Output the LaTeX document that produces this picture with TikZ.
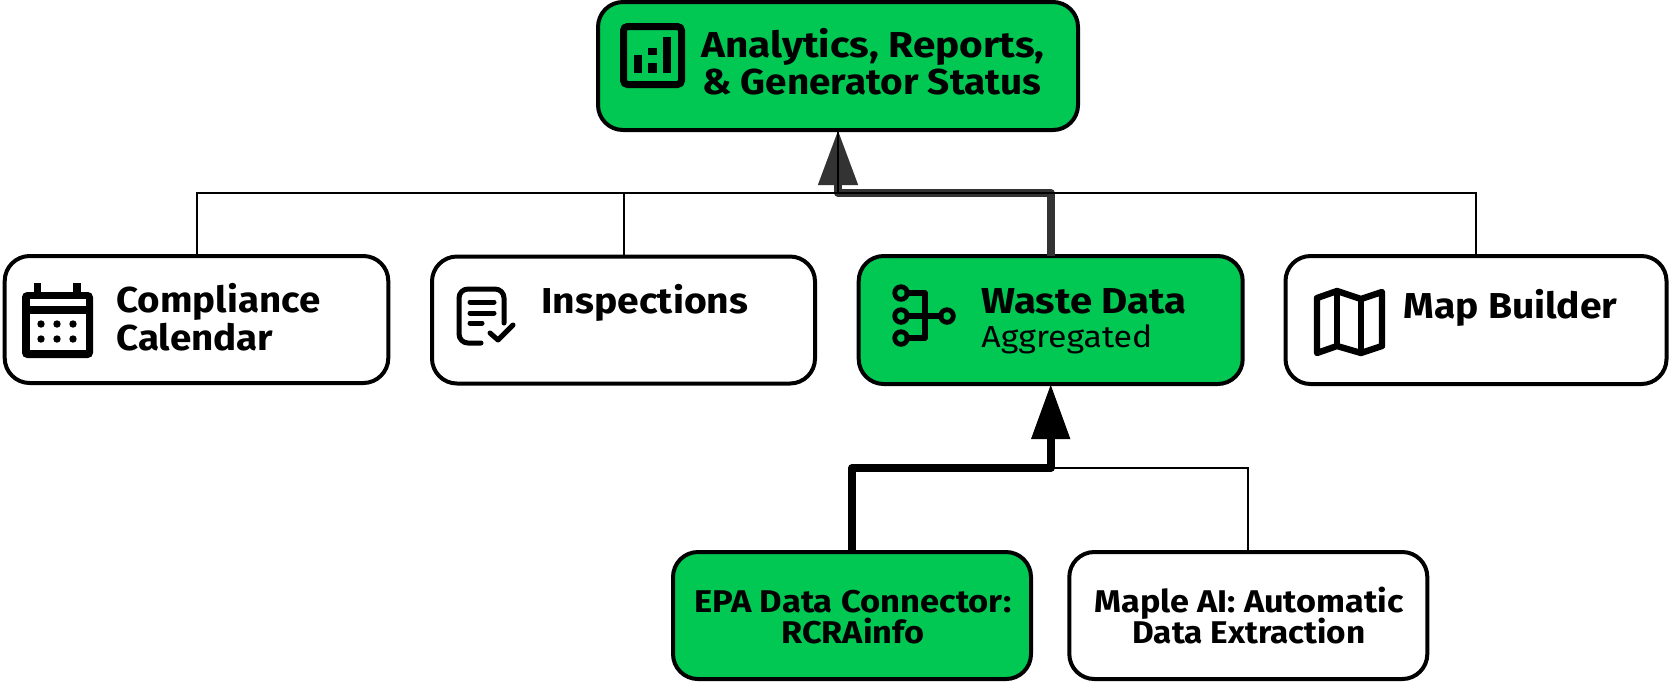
\documentclass[tikz,border=0pt]{standalone}
\usepackage{fontspec}
\setmainfont{Fira Sans}
\usepackage{graphicx}
\usetikzlibrary{arrows.meta}
\definecolor{brandgreen}{RGB}{0,200,83}
\definecolor{softblack}{RGB}{51,51,51}
\newcommand\fitw[2]{\resizebox{#1}{\height}{#2}}
\tikzset{
  card/.style={draw=black,line width=2pt,rounded corners=12.5pt,inner sep=0pt,outer sep=0pt,minimum width=#1},
  card/.default=192pt,
  active/.style={fill=brandgreen},
  plain/.style={fill=white},
  big/.style={anchor=base west,inner sep=0pt,font=\fontsize{18}{20}\selectfont\bfseries},
  mid/.style={anchor=base west,inner sep=0pt,font=\fontsize{15.7}{18}\selectfont\bfseries},
  sub/.style={anchor=base west,inner sep=0pt,font=\fontsize{15.2}{18}\selectfont},
  thinlink/.style={draw=black,line width=1pt},
  greylink/.style={draw=softblack,line width=4pt,line join=round,-{Triangle[length=27.5pt,width=19pt,fill=softblack]}},
  blacklink/.style={draw=black,line width=4pt,line join=round,-{Triangle[length=27.5pt,width=18.5pt,fill=black]}},
  iconline/.style={draw=black,line cap=round,line join=round},
}
\begin{document}
\begin{tikzpicture}[x=0.5pt,y=-0.5pt]
\useasboundingbox (0,0) rectangle (1669,682);
% cards
\node[card=240pt,minimum height=64pt,active] (top) at (838,66) {};
\node[card=191.8pt,minimum height=63.5pt,plain] (comp) at (196.5,319.5) {};
\node[card=191.5pt,minimum height=63.5pt,plain] (insp) at (623.5,320) {};
\node[card=192pt,minimum height=64pt,active] (waste) at (1050.7,320) {};
\node[card=190.5pt,minimum height=64pt,plain] (map) at (1476,320) {};
\node[card=179pt,minimum height=63.5pt,active] (epa) at (852,615.5) {};
\node[card=179pt,minimum height=63.5pt,plain] (maple) at (1248.3,615.5) {};
% junctions
\coordinate (upj) at (838,193);
\coordinate (lowj) at (1050.7,468);
% connectors
\draw[greylink] (waste.north) |- (upj) -- (top.south);
\draw[thinlink] (comp.north) |- (upj);
\draw[thinlink] (insp.north) |- (upj);
\draw[thinlink] (map.north) |- (upj);
\draw[thinlink] (upj) -- (top.south);
\draw[thinlink] (maple.north) |- (lowj);
\draw[blacklink] (epa.north) |- (lowj) -- (waste.south);
% labels
\node[big] (t1) at (701,57) {\fitw{171.5pt}{Analytics, Reports,}};
\node[big] (t2) at (702,94) {\fitw{169.5pt}{\& Generator Status}};
\node[big] (t3) at (116,312) {\fitw{102pt}{Compliance}};
\node[big] (t4) at (116,350) {\fitw{78.5pt}{Calendar}};
\node[big] (t5) at (541,313) {\fitw{103.5pt}{Inspections}};
\node[big] (t6) at (981,313) {\fitw{102.5pt}{Waste Data}};
\node[sub] (t7) at (981,347) {\fitw{85.5pt}{Aggregated}};
\node[big] (t8) at (1403,318) {\fitw{107pt}{Map Builder}};
\node[mid] (t9) at (694,612) {\fitw{158.5pt}{EPA Data Connector:}};
\node[mid] (t10) at (781,643) {\fitw{71.5pt}{RCRAinfo}};
\node[mid] (t11) at (1094,612) {\fitw{154.5pt}{Maple AI: Automatic}};
\node[mid] (t12) at (1132,643) {\fitw{116.5pt}{Data Extraction}};
% analytics icon
\draw[black,line width=3.5pt,rounded corners=2pt] (623.5,26.5) rectangle (681.5,84.5);
\fill (634,55) rectangle (642,73);
\fill (648,48) rectangle (657,55);
\fill (648,63) rectangle (657,73);
\fill (663,37) rectangle (671,73);
% calendar icon
\fill[rounded corners=2.5pt] (22,292) rectangle (93,358);
\fill (34,283) rectangle (41,295);
\fill (73,283) rectangle (81,295);
\fill[white] (30,298.5) rectangle (86,306);
\fill[white] (30,313.5) rectangle (86,350);
\foreach \ix in {41,57,73}\foreach \iy in {324,339}{\fill (\ix,\iy) circle[radius=3.7];}
% inspection icon
\draw[iconline,line width=2.5pt,rounded corners=4.5pt] (504,323) -- (504,289) -- (459,289) -- (459,343) -- (481,343);
\draw[iconline,line width=2.5pt] (470,302) -- (494,302);
\draw[iconline,line width=2.5pt] (470,313) -- (494,313);
\draw[iconline,line width=2.5pt] (470,323) -- (482,323);
\draw[iconline,line width=2.5pt] (490,333) -- (498,340) -- (513,325);
% data icon
\draw[iconline,line width=2.7pt] (907,293) -- (925,293) -- (925,338) -- (907,338);
\draw[iconline,line width=2.7pt] (907,316) -- (941,316);
\foreach \ic in {(901,293),(901,316),(901,338),(947,316)}{\draw[black,line width=2.4pt] \ic circle[radius=6.3];}
% map icon
\draw[iconline,line width=3.2pt] (1317,298) -- (1337,291) -- (1361,299) -- (1382,292) -- (1382,346) -- (1361,353) -- (1337,346) -- (1317,353) -- cycle;
\draw[iconline,line width=2.7pt] (1337,291) -- (1337,346);
\draw[iconline,line width=2.7pt] (1361,299) -- (1361,353);
\end{tikzpicture}
\end{document}
